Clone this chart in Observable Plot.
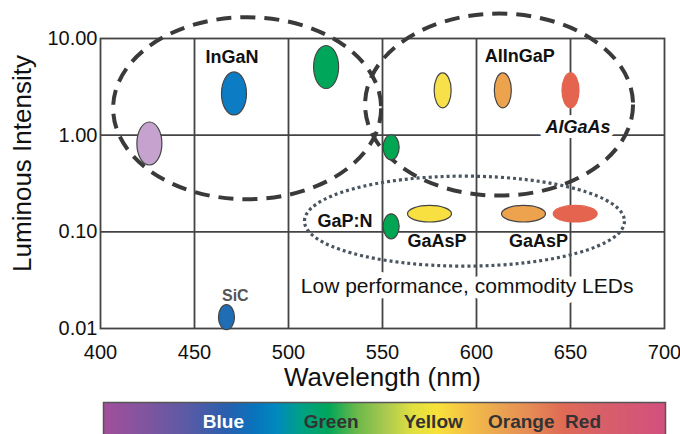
<!DOCTYPE html>
<html><head><meta charset="utf-8">
<script src="https://cdn.jsdelivr.net/npm/d3@7"></script>
<script src="https://cdn.jsdelivr.net/npm/@observablehq/plot@0.6"></script>
<style>body{margin:0;background:#fff}#chart svg{display:block}</style>
</head><body><div id="chart"></div>
<script>
// ---------- data ----------
const xTicks = [400, 450, 500, 550, 600, 650, 700];
const yTicks = [0.01, 0.1, 1, 10];
const xGrid = [450, 500, 550, 600, 650];
const yGrid = [0.1, 1];

// large ovals (violet, InGaN blue, InGaN green)
const bigLedWl = [426, 471, 520];
const bigLedI = [0.82, 2.70, 5.07];
// AlInGaP / AlGaAs ovals
const alLedWl = [582, 614, 650];
const alLedI = [2.90, 2.90, 2.90];
// small ovals (green near 555 nm, GaP:N, SiC)
const smallLedWl = [554.6, 554.6, 467];
const smallLedI = [0.75, 0.114, 0.0131];
// GaAsP (flat ovals)
const gaaspWl = [575, 625, 652.5];
const gaaspI = [0.154, 0.154, 0.154];

// labels
const labelText = ["InGaN", "AlInGaP", "GaP:N", "GaAsP", "GaAsP"];
const labelWl = [470, 623, 530, 579, 633];
const labelI = [6.46, 6.6, 0.129, 0.079, 0.079];
const sicLabel = ["SiC"], sicWl = [471.7], sicI = [0.0215];
const algaasLabel = ["AlGaAs"], algaasWl = [654], algaasI = [1.21];
const lowLabel = ["Low performance, commodity LEDs"], lowWl = [595], lowI = [0.0275];

// grouping regions (centres)
const dashedWl = [478, 612];
const dashedI = [1.90, 2.07];
const dottedWl = [593.6];
const dottedI = [0.129];

// spectrum bar
const spectrumNames = ["Blue", "Green", "Yellow", "Orange", "Red"];
const spectrumWl = [464, 521.5, 576, 623, 656];
const spectrumStopNm = [400, 425, 445, 465, 480, 492, 505, 520, 535, 550, 565, 578, 592, 610, 628, 645, 665, 700];

// ---------- styles ----------
const FONT = "'Liberation Sans', Arial, Helvetica, sans-serif";
const bigColors = ["#c6a3cf", "#0c7cc4", "#00a65a"];
const alColors = ["#f8e04a", "#eda24e", "#e4644f"];
const alStroke = ["#444", "#444", "#e4644f"];
const smallColors = ["#00a651", "#00a651", "#1f6db5"];
const gaaspColors = ["#f8e040", "#eda24e", "#e4644f"];
const gaaspStroke = ["#444", "#444", "#e4644f"];
const spectrumTextColors = ["#ffffff", "#333", "#333", "#333", "#333"];
const spectrumStopColors = ["#a24f9b", "#7d55a0", "#5a5aa5", "#2a5fae", "#0a72bc", "#0088c0", "#00a088", "#00a65a", "#6ab84a", "#a8c850", "#e0e040", "#f8e23a", "#f5c445", "#eba650", "#e68a55", "#df6b55", "#d86068", "#d34f7e"];

function ellipse(rx, ry) {
  const k = 0.5522847;
  return {draw(ctx) {
    ctx.moveTo(rx, 0);
    ctx.bezierCurveTo(rx, ry * k, rx * k, ry, 0, ry);
    ctx.bezierCurveTo(-rx * k, ry, -rx, ry * k, -rx, 0);
    ctx.bezierCurveTo(-rx, -ry * k, -rx * k, -ry, 0, -ry);
    ctx.bezierCurveTo(rx * k, -ry, rx, -ry * k, rx, 0);
    ctx.closePath();
  }};
}
const idx = a => a.map((_, i) => i);

const main = Plot.plot({
  width: 680, height: 400,
  marginTop: 38, marginBottom: 72, marginLeft: 100, marginRight: 16,
  style: {fontFamily: FONT, fontSize: "20px", color: "#111", background: "white", overflow: "visible"},
  x: {domain: [400, 700], ticks: xTicks, tickSize: 0, tickPadding: 16, label: null, tickFormat: d => String(d)},
  y: {type: "log", domain: [0.01, 10], ticks: yTicks, tickFormat: d3.format(".2f"), tickSize: 0, tickPadding: 3, label: null},
  marks: [
    Plot.ruleX(xGrid, {stroke: "#444", strokeWidth: 1.8}),
    Plot.ruleY(yGrid, {stroke: "#444", strokeWidth: 1.8}),
    Plot.frame({stroke: "#444", strokeWidth: 1.8}),
    // labels with white halo (drawn before region outlines)
    Plot.text(algaasLabel, {x: algaasWl, y: algaasI, text: d => d, fontSize: 18, fontWeight: "bold", fontStyle: "italic", fill: "#111", stroke: "white", strokeWidth: 10}),
    Plot.text(lowLabel, {x: lowWl, y: lowI, text: d => d, fontSize: 21, fill: "#111", stroke: "white", strokeWidth: 12}),
    // region outlines
    Plot.dot(idx(dashedWl), {x: i => dashedWl[i], y: i => dashedI[i], symbol: ellipse(134, 91), fill: "none", stroke: "#3a3a3a", strokeWidth: 4, strokeDasharray: "15,9"}),
    Plot.dot(idx(dottedWl), {x: i => dottedWl[i], y: i => dottedI[i], symbol: ellipse(160, 45), fill: "none", stroke: "#4a5560", strokeWidth: 3.2, strokeDasharray: "3,3"}),
    // LEDs
    Plot.dot(idx(bigLedWl), {x: i => bigLedWl[i], y: i => bigLedI[i], symbol: ellipse(12.5, 21.5), fill: i => bigColors[i], stroke: "#444", strokeWidth: 1.2}),
    Plot.dot(idx(alLedWl), {x: i => alLedWl[i], y: i => alLedI[i], symbol: ellipse(8.5, 17.5), fill: i => alColors[i], stroke: i => alStroke[i], strokeWidth: 1.2}),
    Plot.dot(idx(smallLedWl), {x: i => smallLedWl[i], y: i => smallLedI[i], symbol: ellipse(8, 12.5), fill: i => smallColors[i], stroke: "#444", strokeWidth: 1.2}),
    Plot.dot(idx(gaaspWl), {x: i => gaaspWl[i], y: i => gaaspI[i], symbol: ellipse(22, 8.3), fill: i => gaaspColors[i], stroke: i => gaaspStroke[i], strokeWidth: 1.2}),
    // material labels
    Plot.text(idx(labelText), {x: i => labelWl[i], y: i => labelI[i], text: i => labelText[i], fontSize: 18, fontWeight: "bold", fill: "#111"}),
    Plot.text(sicLabel, {x: sicWl, y: sicI, text: d => d, fontSize: 16, fontWeight: "bold", fill: "#555"}),
    // axis titles
    Plot.text(["Wavelength (nm)"], {text: d => d, frameAnchor: "bottom", lineAnchor: "middle", textAnchor: "middle", dy: 49, fontSize: 26, fill: "#111"}),
    Plot.text(["Luminous Intensity"], {text: d => d, frameAnchor: "left", textAnchor: "middle", lineAnchor: "middle", rotate: -90, dx: -78, dy: -20, fontSize: 26, fill: "#111"})
  ]
});

const bar = Plot.plot({
  width: 680, height: 40,
  marginTop: 2, marginBottom: 0, marginLeft: 103, marginRight: 15,
  style: {fontFamily: FONT, fontSize: "18px", background: "white"},
  x: {domain: [400, 700], axis: null},
  marks: [
    Plot.frame({fill: "url(#spectrum)", stroke: "#555", strokeWidth: 1.5}),
    Plot.text(idx(spectrumNames), {x: i => spectrumWl[i], text: i => spectrumNames[i], fill: i => spectrumTextColors[i], fontSize: 19, fontWeight: "bold"})
  ]
});
const lg = d3.select(bar).insert("defs", ":first-child").append("linearGradient")
  .attr("id", "spectrum").attr("x1", 0).attr("x2", 1).attr("y1", 0).attr("y2", 0);
spectrumStopNm.forEach((nm, i) => {
  lg.append("stop").attr("offset", (nm - 400) / 300).attr("stop-color", spectrumStopColors[i]);
});

const root = document.getElementById("chart");
root.appendChild(main);
root.appendChild(bar);
</script></body></html>
